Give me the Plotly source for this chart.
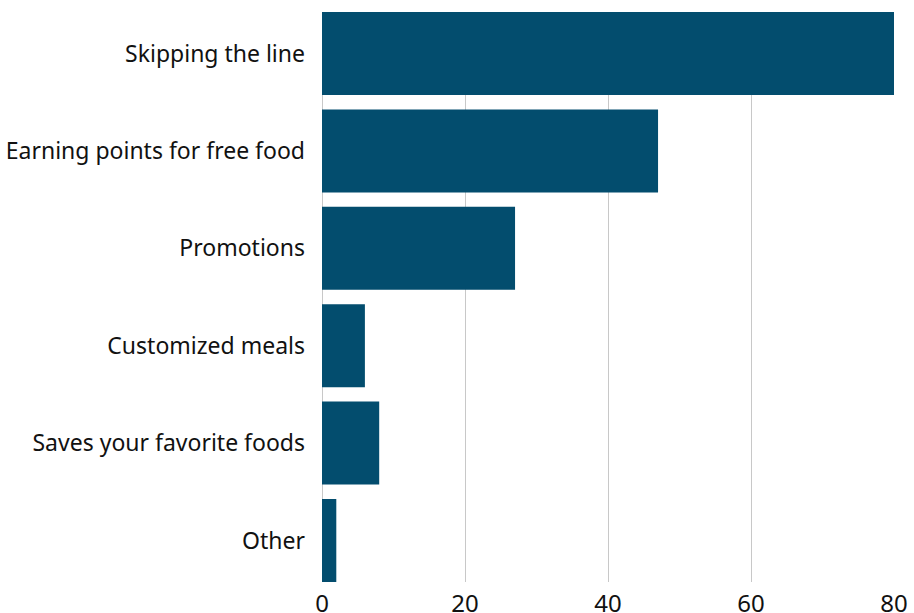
import plotly.graph_objects as go

categories = ["Skipping the line", "Earning points for free food", "Promotions",
              "Customized meals", "Saves your favorite foods", "Other"]
values = [80, 47, 27, 6, 8, 2]
x_ticks = [0, 20, 40, 60, 80]

gap = 0.148
fig = go.Figure(go.Bar(
    x=values, y=categories, orientation="h",
    marker=dict(color="#034d6e", line=dict(width=0)),
))
fig.update_layout(
    width=914, height=613,
    margin=dict(l=322, r=20, t=12, b=31, autoexpand=False),
    paper_bgcolor="white", plot_bgcolor="white",
    bargap=gap,
    font=dict(family="Noto Sans", color="#111111"),
    showlegend=False,
)
fig.update_yaxes(
    autorange=False, automargin=False,
    range=[5 + (1 - gap) / 2, -(1 - gap) / 2],
    showgrid=False, showline=False, ticks="",
    tickfont=dict(size=23), ticklabelstandoff=16,
)
fig.update_xaxes(
    range=[0, 80], tickvals=x_ticks, showgrid=True, gridcolor="#c8c8c8", gridwidth=1,
    automargin=False,
    zeroline=True, zerolinecolor="#c8c8c8", zerolinewidth=1,
    showline=False, ticks="", tickfont=dict(size=24), ticklabelstandoff=5,
)
fig.write_html("out.html", config={"displayModeBar": False},
               post_script="document.body.style.margin='0';document.body.style.overflow='hidden';")
